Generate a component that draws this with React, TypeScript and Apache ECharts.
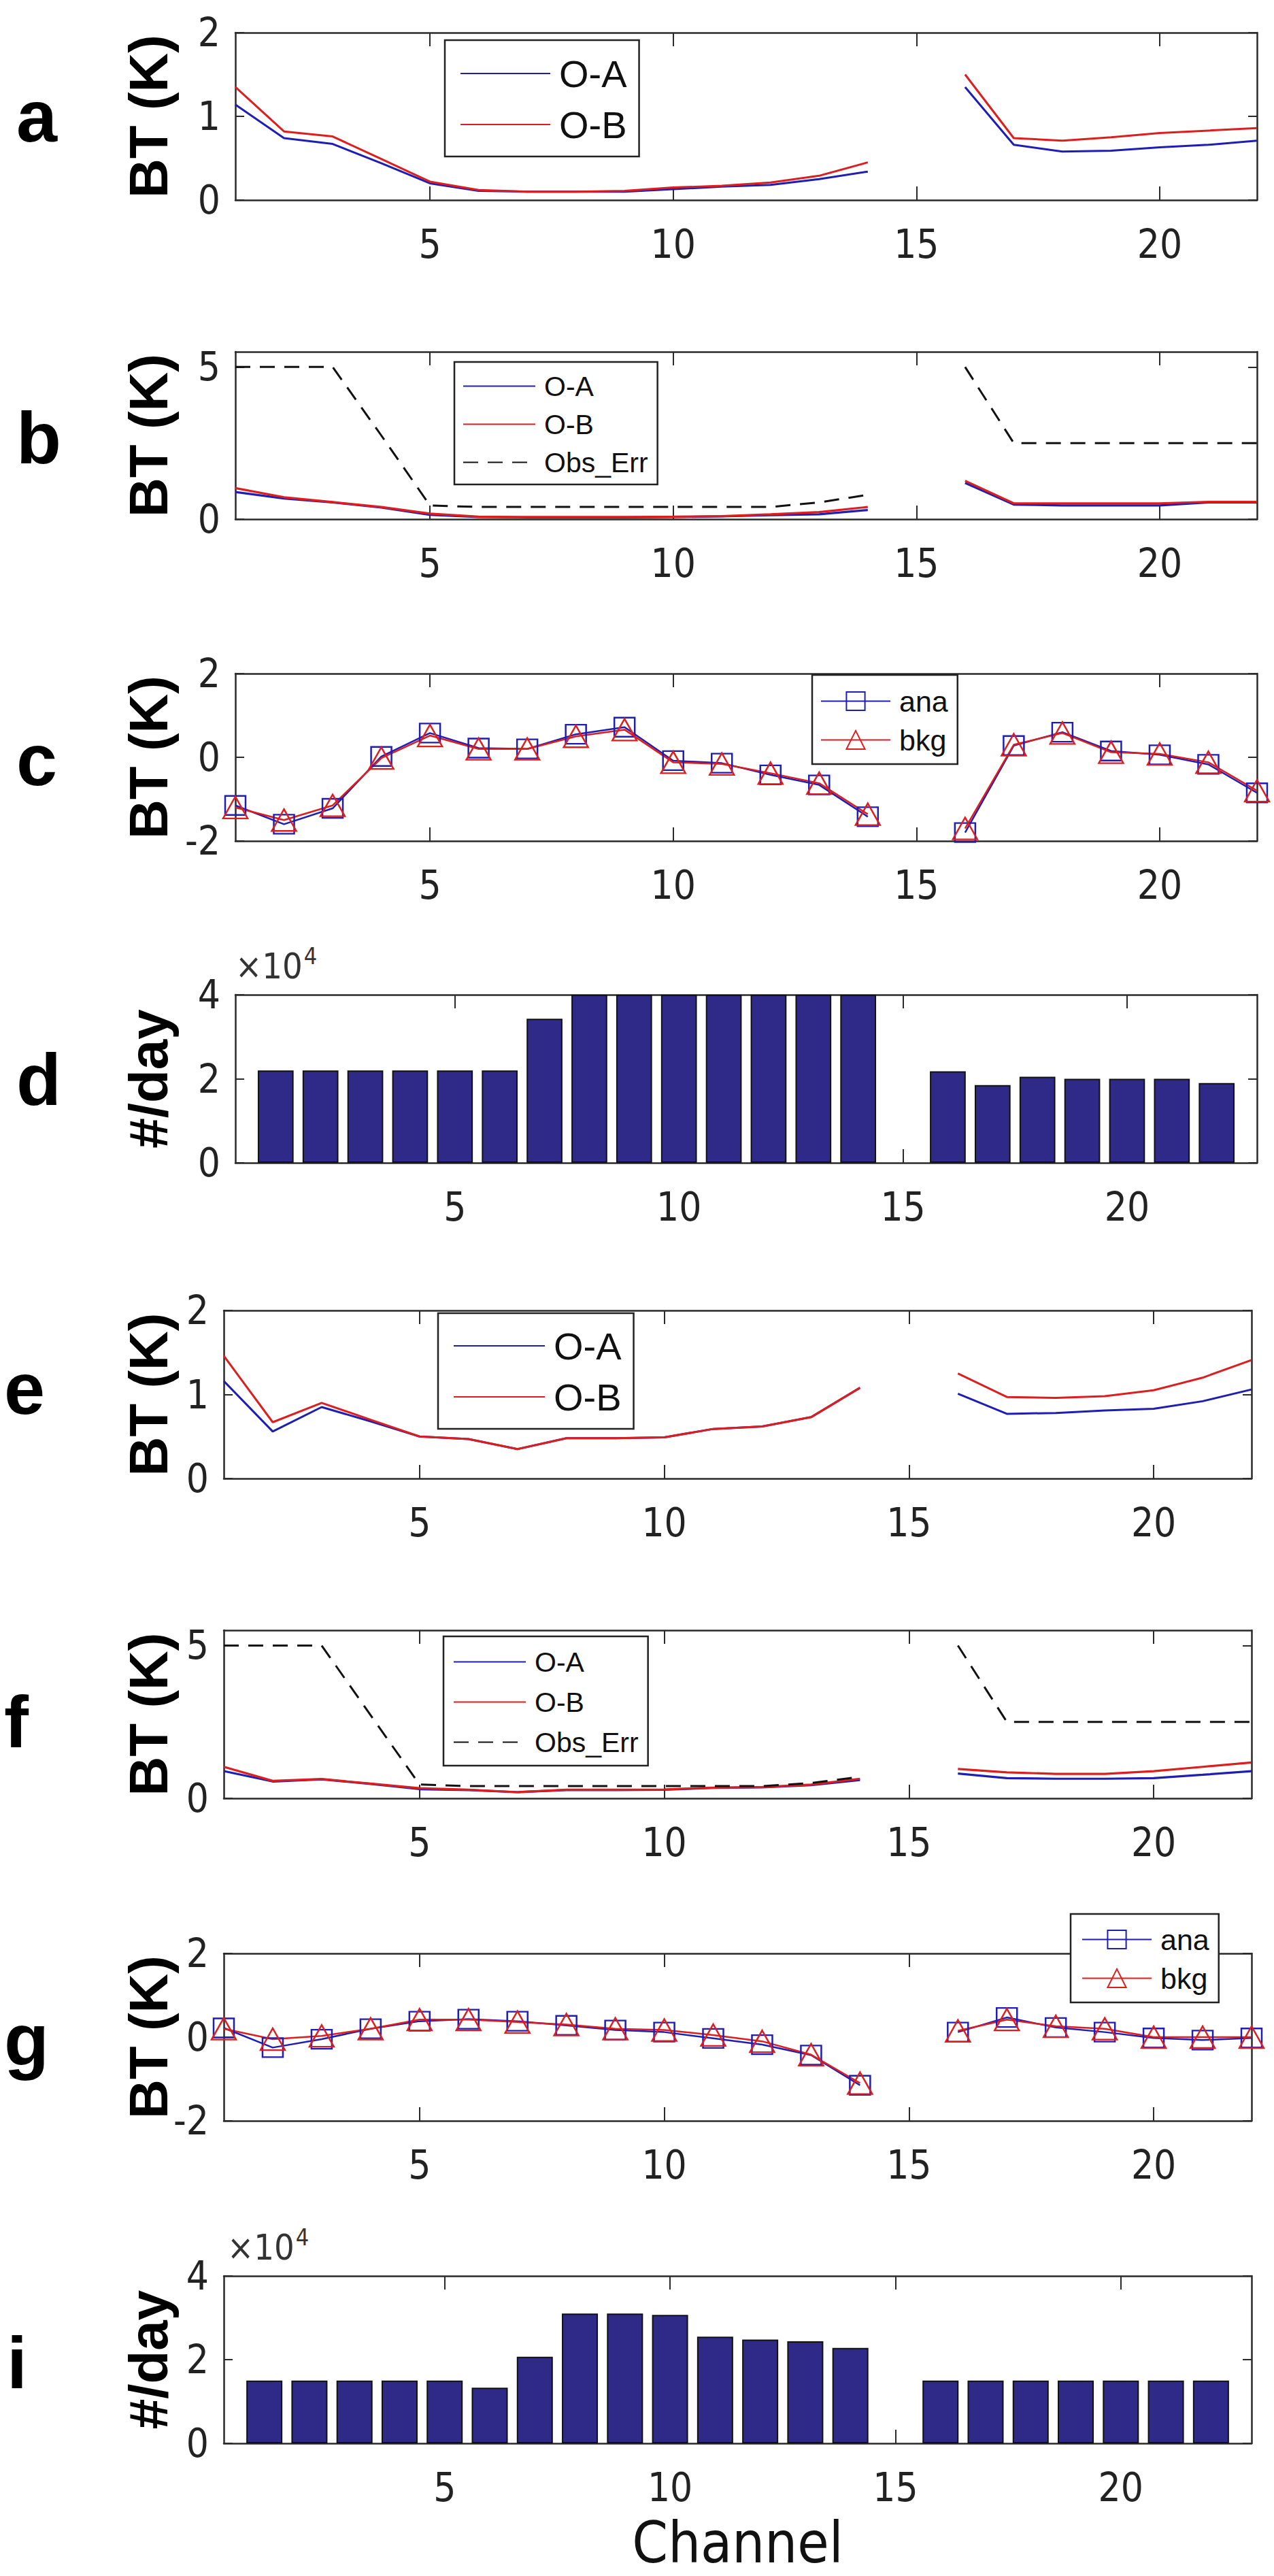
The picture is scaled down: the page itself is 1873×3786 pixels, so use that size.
import React, { useEffect, useRef } from 'react';
import * as echarts from 'echarts';

const W = 1873;
const H = 3786;

// ---------- data ----------
const CHANNELS = [1, 2, 3, 4, 5, 6, 7, 8, 9, 10, 11, 12, 13, 14, 15, 16, 17, 18, 19, 20, 21, 22];
const X_TICKS = [5, 10, 15, 20];

// panel a : O-A / O-B
const A_OA = [1.14, 0.74, 0.67, 0.44, 0.2, 0.11, 0.1, 0.1, 0.1, 0.13, 0.16, 0.18, 0.25, 0.34, null, 1.35, 0.66, 0.58, 0.59, 0.63, 0.66, 0.71];
const A_OB = [1.35, 0.82, 0.76, 0.49, 0.22, 0.12, 0.1, 0.1, 0.11, 0.15, 0.17, 0.21, 0.29, 0.45, null, 1.5, 0.74, 0.71, 0.75, 0.8, 0.83, 0.86];
// panel b
const B_OA = [0.89, 0.68, 0.55, 0.38, 0.14, 0.07, 0.06, 0.06, 0.06, 0.07, 0.09, 0.13, 0.16, 0.3, null, 1.19, 0.48, 0.45, 0.45, 0.45, 0.55, 0.55];
const B_OB = [1.02, 0.72, 0.56, 0.4, 0.18, 0.08, 0.07, 0.07, 0.07, 0.08, 0.1, 0.16, 0.23, 0.4, null, 1.26, 0.52, 0.52, 0.52, 0.52, 0.57, 0.57];
const B_ERR = [5, 5, 5, 2.75, 0.45, 0.4, 0.4, 0.4, 0.4, 0.4, 0.4, 0.4, 0.55, 0.8, null, 5, 2.5, 2.5, 2.5, 2.5, 2.5, 2.5];
// panel c
const C_ANA = [-1.15, -1.6, -1.22, 0.02, 0.58, 0.22, 0.2, 0.55, 0.72, -0.08, -0.14, -0.42, -0.66, -1.42, null, -1.8, 0.28, 0.6, 0.15, 0.06, -0.17, -0.85];
const C_BKG = [-1.2, -1.5, -1.15, -0.02, 0.52, 0.2, 0.2, 0.5, 0.66, -0.12, -0.16, -0.38, -0.62, -1.36, null, -1.7, 0.3, 0.58, 0.12, 0.08, -0.12, -0.8];
// panel d : counts per day
const D_COUNT = [22000, 22000, 22000, 22000, 22000, 22000, 34300, 40000, 40000, 40000, 40000, 40000, 40000, 40000, null, 21800, 18500, 20500, 20000, 20000, 20000, 19000];
// panel e
const E_OA = [1.16, 0.56, 0.85, 0.68, 0.5, 0.47, 0.35, 0.48, 0.48, 0.49, 0.59, 0.62, 0.73, 1.08, null, 1.01, 0.77, 0.78, 0.81, 0.83, 0.92, 1.06];
const E_OB = [1.46, 0.67, 0.9, 0.7, 0.5, 0.47, 0.35, 0.48, 0.48, 0.49, 0.59, 0.62, 0.73, 1.08, null, 1.25, 0.97, 0.96, 0.98, 1.05, 1.2, 1.41];
// panel f
const F_OA = [0.89, 0.55, 0.62, 0.47, 0.3, 0.27, 0.2, 0.27, 0.27, 0.28, 0.34, 0.36, 0.43, 0.6, null, 0.81, 0.66, 0.64, 0.64, 0.66, 0.77, 0.89];
const F_OB = [1.03, 0.57, 0.63, 0.48, 0.33, 0.28, 0.2, 0.28, 0.28, 0.29, 0.35, 0.37, 0.45, 0.64, null, 0.96, 0.85, 0.8, 0.8, 0.89, 1.03, 1.17];
const F_ERR = [5, 5, 5, 2.72, 0.45, 0.4, 0.4, 0.4, 0.4, 0.4, 0.4, 0.4, 0.5, 0.7, null, 5, 2.5, 2.5, 2.5, 2.5, 2.5, 2.5];
// panel g
const G_ANA = [0.22, -0.25, -0.05, 0.2, 0.38, 0.43, 0.38, 0.28, 0.17, 0.12, -0.03, -0.18, -0.43, -1.15, null, 0.12, 0.47, 0.23, 0.12, -0.02, -0.07, -0.02];
const G_BKG = [0.2, -0.05, 0.03, 0.2, 0.42, 0.42, 0.36, 0.3, 0.2, 0.17, 0.05, -0.1, -0.42, -1.1, null, 0.15, 0.42, 0.26, 0.2, 0.0, 0.0, 0.0];
// panel i : counts per day
const I_COUNT = [15000, 15000, 15000, 15000, 15000, 13300, 20700, 31000, 31000, 30700, 25500, 24800, 24400, 22800, null, 15000, 15000, 15000, 15000, 15000, 15000, 15000];

// ---------- styles ----------
const BLUE = '#1e1eb4';
const RED = '#dc1e1e';
const BAR = '#2f2a88';
const AXIS = '#2a2a2a';
const NARROW = "'Liberation Sans Narrow', 'DejaVu Sans Condensed', 'Liberation Sans', sans-serif";
const BOLD = "'Liberation Sans', Arial, Helvetica, sans-serif";
const REG = "'Liberation Sans', 'DejaVu Sans', sans-serif";

type Panel = {
  letter: string;
  left: number; top: number; width: number; height: number;
  xmin: number; xmax: number;
  ymin: number; ymax: number; yticks: number[];
  yname: string; nameGap: number;
  letterX: number; letterBase: number;
  yDiv?: number;
};

const PANELS: Panel[] = [
  { letter: 'a', left: 346, top: 48, width: 1502, height: 246, xmin: 1, xmax: 22, ymin: 0, ymax: 2, yticks: [0, 1, 2], yname: 'BT (K)', nameGap: 88, letterX: 24, letterBase: 207 },
  { letter: 'b', left: 346, top: 517, width: 1502, height: 246, xmin: 1, xmax: 22, ymin: 0, ymax: 5.5, yticks: [0, 5], yname: 'BT (K)', nameGap: 88, letterX: 24, letterBase: 680 },
  { letter: 'c', left: 346, top: 990, width: 1502, height: 246, xmin: 1, xmax: 22, ymin: -2, ymax: 2, yticks: [-2, 0, 2], yname: 'BT (K)', nameGap: 88, letterX: 24, letterBase: 1153 },
  { letter: 'd', left: 346, top: 1462, width: 1502, height: 247, xmin: 0.1, xmax: 22.9, ymin: 0, ymax: 40000, yticks: [0, 20000, 40000], yname: '#/day', nameGap: 88, letterX: 24, letterBase: 1623, yDiv: 10000 },
  { letter: 'e', left: 329, top: 1926, width: 1511, height: 247, xmin: 1, xmax: 22, ymin: 0, ymax: 2, yticks: [0, 1, 2], yname: 'BT (K)', nameGap: 71, letterX: 6, letterBase: 2077 },
  { letter: 'f', left: 329, top: 2396, width: 1511, height: 247, xmin: 1, xmax: 22, ymin: 0, ymax: 5.5, yticks: [0, 5], yname: 'BT (K)', nameGap: 71, letterX: 6, letterBase: 2567 },
  { letter: 'g', left: 329, top: 2871, width: 1511, height: 246, xmin: 1, xmax: 22, ymin: -2, ymax: 2, yticks: [-2, 0, 2], yname: 'BT (K)', nameGap: 71, letterX: 6, letterBase: 3035 },
  { letter: 'i', left: 329, top: 3345, width: 1511, height: 246, xmin: 0.1, xmax: 22.9, ymin: 0, ymax: 40000, yticks: [0, 20000, 40000], yname: '#/day', nameGap: 71, letterX: 10, letterBase: 3509, yDiv: 10000 },
];

const pairs = (vals: (number | null)[]) => CHANNELS.map((c, k) => [c, vals[k] == null ? '-' : vals[k]]);
const barPairs = (vals: (number | null)[]) =>
  CHANNELS.map((c, k) => [c, vals[k]]).filter((d) => d[1] != null);

function buildOption() {
  const grid: any[] = [];
  const xAxis: any[] = [];
  const yAxis: any[] = [];
  const series: any[] = [];
  const legend: any[] = [];
  const graphic: any[] = [];

  const tickLine = { color: AXIS, width: 2 };
  const axLine = { show: true, onZero: false, lineStyle: { color: AXIS, width: 2.5 } };

  PANELS.forEach((p, i) => {
    grid.push({ left: p.left, top: p.top, width: p.width, height: p.height, containLabel: false, outerBoundsMode: 'none' });
    const isLast = i === PANELS.length - 1;
    xAxis.push({
      type: 'value', gridIndex: i, position: 'bottom', min: p.xmin, max: p.xmax,
      axisLine: axLine,
      axisTick: { show: true, inside: true, length: 20, customValues: X_TICKS, lineStyle: tickLine },
      axisLabel: { show: true, customValues: X_TICKS, margin: 36, fontSize: 58, fontFamily: NARROW, color: '#222' },
      splitLine: { show: false },
      ...(isLast ? {
        name: 'Channel', nameLocation: 'middle', nameGap: 104, nameMoveOverlap: false,
        nameTextStyle: { fontSize: 84, lineHeight: 84, fontFamily: NARROW, color: '#111' },
      } : {}),
    });
    xAxis.push({
      type: 'value', gridIndex: i, position: 'top', min: p.xmin, max: p.xmax,
      axisLine: axLine,
      axisTick: { show: true, inside: true, length: 20, customValues: X_TICKS, lineStyle: tickLine },
      axisLabel: { show: false },
      splitLine: { show: false },
    });
    yAxis.push({
      type: 'value', gridIndex: i, position: 'left', min: p.ymin, max: p.ymax,
      axisLine: axLine,
      axisTick: { show: true, inside: true, length: 13, customValues: p.yticks, lineStyle: tickLine },
      axisLabel: {
        show: true, customValues: p.yticks, margin: 22, fontSize: 58, fontFamily: NARROW, color: '#222',
        formatter: (v: number) => String(p.yDiv ? v / p.yDiv : v),
      },
      splitLine: { show: false },
      name: p.yname, nameLocation: 'middle', nameGap: p.nameGap, nameRotate: 90, nameMoveOverlap: false,
      nameTextStyle: { fontSize: 80, fontWeight: 'bold', fontFamily: BOLD, color: '#000' },
    });
    yAxis.push({
      type: 'value', gridIndex: i, position: 'right', min: p.ymin, max: p.ymax,
      axisLine: axLine,
      axisTick: { show: true, inside: true, length: 13, customValues: p.yticks, lineStyle: tickLine },
      axisLabel: { show: false },
      splitLine: { show: false },
    });

    graphic.push({
      type: 'text', x: p.letterX, y: p.letterBase + 17,
      style: { text: p.letter, font: `bold 108px ${BOLD}`, fill: '#000', align: 'left', verticalAlign: 'bottom', textAlign: 'left', textVerticalAlign: 'bottom' },
    });
  });

  const xi = (i: number) => 2 * i;
  const plain = (name: string, vals: (number | null)[], color: string, gi: number, width = 3) => ({
    type: 'line', name, xAxisIndex: xi(gi), yAxisIndex: xi(gi), data: pairs(vals), symbol: 'none',
    lineStyle: { color, width }, itemStyle: { color }, connectNulls: false, clip: false,
  });
  const dashed = (vals: (number | null)[], gi: number) => ({
    type: 'line', name: 'Obs_Err', xAxisIndex: xi(gi), yAxisIndex: xi(gi), data: pairs(vals), symbol: 'none',
    lineStyle: { color: '#111', width: 3, type: [22, 14] }, itemStyle: { color: '#111' }, connectNulls: false, clip: false,
  });
  const marked = (name: string, vals: (number | null)[], color: string, gi: number, symbol: string, size: number[]) => ({
    type: 'line', name, xAxisIndex: xi(gi), yAxisIndex: xi(gi), data: pairs(vals), symbol, symbolSize: size,
    showSymbol: true, lineStyle: { color, width: 2.5 },
    itemStyle: { color: 'rgba(255,255,255,0)', borderColor: color, borderWidth: 2.4 },
    connectNulls: false, clip: false,
  });
  const bars = (vals: (number | null)[], gi: number) => ({
    type: 'bar', name: 'count' + gi, xAxisIndex: xi(gi), yAxisIndex: xi(gi), data: barPairs(vals),
    barCategoryGap: '20%', itemStyle: { color: BAR, borderColor: '#111', borderWidth: 2 },
  });

  series.push(plain('O-A', A_OA, BLUE, 0), plain('O-B', A_OB, RED, 0));
  series.push(plain('O-A', B_OA, BLUE, 1, 3.2), plain('O-B', B_OB, RED, 1, 3.2), dashed(B_ERR, 1));
  series.push(marked('ana', C_ANA, BLUE, 2, 'rect', [30, 28]), marked('bkg', C_BKG, RED, 2, 'triangle', [36, 32]));
  series.push(bars(D_COUNT, 3));
  series.push(plain('O-A', E_OA, BLUE, 4), plain('O-B', E_OB, RED, 4));
  series.push(plain('O-A', F_OA, BLUE, 5, 3.2), plain('O-B', F_OB, RED, 5, 3.2), dashed(F_ERR, 5));
  series.push(marked('ana', G_ANA, BLUE, 6, 'rect', [30, 28]), marked('bkg', G_BKG, RED, 6, 'triangle', [36, 32]));
  series.push(bars(I_COUNT, 7));

  const lineOnly = (n: string) => ({ name: n, itemStyle: { opacity: 0, color: 'rgba(0,0,0,0)', borderWidth: 0 } });
  const mkLegend = (names: any[], left: number, top: number, padding: number[], itemWidth: number, itemHeight: number, itemGap: number, fontSize: number) => ({
    show: true, orient: 'vertical', left, top, padding, itemWidth, itemHeight, itemGap,
    data: names, selectedMode: false, backgroundColor: '#fff', borderColor: '#222', borderWidth: 2.5, borderRadius: 0,
    textStyle: { fontSize, fontFamily: REG, color: '#111', padding: [0, 0, 0, 8] },
  });
  legend.push(mkLegend([lineOnly('O-A'), lineOnly('O-B')], 654, 59, [21, 18, 19, 22], 132, 14, 19, 56));
  legend.push(mkLegend([lineOnly('O-A'), lineOnly('O-B'), lineOnly('Obs_Err')], 668, 532, [15, 14, 12, 12], 106, 14, 15, 41));
  legend.push(mkLegend(['ana', 'bkg'], 1194, 992, [17, 14, 14, 12], 102, 34, 14, 43));
  legend.push(mkLegend([lineOnly('O-A'), lineOnly('O-B')], 644, 1930, [20, 18, 19, 22], 134, 14, 19, 56));
  legend.push(mkLegend([lineOnly('O-A'), lineOnly('O-B'), lineOnly('Obs_Err')], 652, 2405, [17, 14, 14, 14], 106, 14, 18, 41));
  legend.push(mkLegend(['ana', 'bkg'], 1574, 2813, [16, 14, 14, 16], 102, 34, 14, 43));

  const xTen = (x: number, bottom: number) => ({
    type: 'text', x, y: bottom,
    style: {
      text: '{a|×10}{b|4}', align: 'left', verticalAlign: 'bottom', textAlign: 'left', textVerticalAlign: 'bottom',
      rich: {
        a: { fontSize: 52, fontFamily: NARROW, fill: '#333', color: '#333' },
        b: { fontSize: 34, fontFamily: NARROW, fill: '#333', color: '#333', padding: [0, 0, 30, 2] },
      },
    },
  });
  graphic.push(xTen(346, 1452), xTen(334, 3335));

  return {
    animation: false,
    backgroundColor: '#ffffff',
    grid, xAxis, yAxis, series, legend, graphic,
  };
}

function App() {
  const ref = useRef<HTMLDivElement>(null);
  useEffect(() => {
    if (!ref.current) return;
    const chart = echarts.init(ref.current, undefined, { renderer: 'svg', width: W, height: H });
    chart.setOption(buildOption() as any);
    return () => chart.dispose();
  }, []);
  return (
    <div
      ref={ref}
      style={{ position: 'absolute', left: 0, top: 0, width: W, height: H, background: '#fff' }}
    />
  );
}

export default App;
